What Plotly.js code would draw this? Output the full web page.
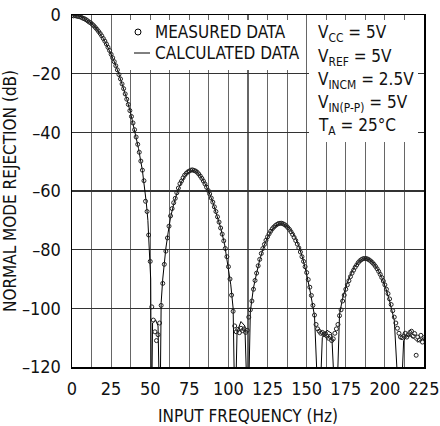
<!DOCTYPE html>
<html>
<head>
<meta charset="utf-8">
<script src="https://cdn.plot.ly/plotly-3.0.1.min.js"></script>
<style>html,body{margin:0;padding:0;background:#fff;}#chart{width:440px;height:426px;}</style>
</head>
<body>
<div id="chart"></div>
<script>
const measuredFreq = [0,1,2,3,4,5,6,7,8,9,10,11,12,13,14,15,16,17,18,19,20,21,22,23,24,25,26,27,28,29,30,31,32,33,34,35,36,37,38,39,40,41,42,43,44,45,46,47,48,49,50,51,52,53,54,55,56,57,58,59,60,61,62,63,64,65,66,67,68,69,70,71,72,73,74,75,76,77,78,79,80,81,82,83,84,85,86,87,88,89,90,91,92,93,94,95,96,97,98,99,100,101,102,103,104,105,106,107,108,109,110,111,112,113,114,115,116,117,118,119,120,121,122,123,124,125,126,127,128,129,130,131,132,133,134,135,136,137,138,139,140,141,142,143,144,145,146,147,148,149,150,151,152,153,154,155,156,157,158,159,160,161,162,163,164,165,166,167,168,169,170,171,172,173,174,175,176,177,178,179,180,181,182,183,184,185,186,187,188,189,190,191,192,193,194,195,196,197,198,199,200,201,202,203,204,205,206,207,208,209,210,211,212,213,214,215,216,217,218,219,220,221,222,223,224,225];
const measuredDb = [-0.2,-0.3,-0.2,-0.4,-0.5,-0.6,-0.8,-1.1,-1.3,-1.6,-2.0,-2.4,-2.7,-3.2,-3.7,-4.3,-4.9,-5.6,-6.3,-7.1,-8.0,-8.9,-9.9,-11.0,-12.1,-13.4,-14.6,-15.9,-17.3,-18.7,-20.3,-21.8,-23.5,-25.1,-26.9,-28.7,-30.5,-32.6,-34.6,-36.8,-39.1,-41.6,-44.1,-46.8,-49.8,-52.9,-56.5,-63.5,-67,-75,-84,-99.5,-104,-108,-111,-109,-105,-99,-91.5,-85,-80.5,-76,-72,-68.5,-66,-64,-62.5,-60.6,-59,-57.5,-56.6,-55.5,-54.6,-54,-53.5,-53.2,-52.9,-52.8,-53,-53.2,-53.6,-54.2,-54.9,-55.7,-56.6,-57.6,-58.7,-59.8,-61,-62.4,-63.8,-65.4,-67,-68.8,-70.6,-72.6,-74.7,-77,-79.6,-82.4,-85.8,-90,-95.5,-101,-106,-108,-107.2,-108.3,-106.8,-107.6,-107,-108.2,-107.5,-103,-100.5,-97.5,-93.5,-90.5,-88,-85.5,-83.3,-81.3,-79.6,-78.2,-76.8,-75.6,-74.6,-73.7,-72.9,-72.3,-71.8,-71.4,-71.1,-71,-71,-71.2,-71.5,-71.9,-72.5,-73.1,-73.9,-74.8,-75.8,-76.9,-78.1,-79.4,-80.8,-82.4,-84,-85.8,-87.8,-90.2,-92.8,-95.6,-99,-102.3,-105.5,-107,-107.8,-108.5,-108.2,-109,-108.6,-109.5,-110.2,-109.6,-111,-110.4,-108.5,-107,-105.5,-102.5,-100.5,-97.5,-95.5,-93.5,-92,-90.6,-89.2,-88,-87,-86,-85.2,-84.4,-83.8,-83.4,-83.1,-83,-83,-83.2,-83.5,-83.9,-84.4,-85,-85.7,-86.5,-87.4,-88.4,-89.5,-90.7,-92,-93.5,-95,-96.8,-98.7,-100.8,-103,-105,-106.8,-108.5,-109.8,-110,-109.4,-108.5,-109.8,-109,-108.2,-107.8,-109.5,-108.6,-116,-109.8,-110.8,-109.2,-111.5,-110];

// Calculated response (solid line)
const calcFreq = [0,2.5,5,7.5,10,12.5,15,17.5,20,22.5,25,27.5,30,32.5,35,37.5,40,42.5,45,46.5,47.5,48.5,49.5,50.3,50.8,51.5,53.5,55,56.2,57,58,59,60,61.5,63,65,67.5,70,72.5,75,77.5,80,82.5,85,87.5,90,92.5,95,97.5,100,101.5,103,104.2,105.5,108,110.5,112.5,114,116,118,120,122.5,125,127.5,130,132.5,135,137.5,140,142.5,145,147.5,150,152.5,155,157.9,160,163,166,168.8,171,173,175.5,178,180.5,183,185.5,188,190.5,193,195.5,198,200.5,203,206,209.7,212,215,218,221,225];
const calcDb = [0,-0.1,-0.4,-1.0,-1.8,-2.8,-4.2,-5.9,-8.0,-10.5,-13.3,-16.5,-20.2,-24.3,-28.6,-33.5,-39,-45.5,-53,-59,-64,-70,-79,-90,-140,-105,-104,-106,-140,-98,-90,-84,-79.5,-74,-69,-64.5,-60,-56.8,-54.7,-53.4,-53,-53.6,-55.2,-57.5,-60.3,-63.8,-67.8,-72.5,-78,-86,-92,-100,-140,-108,-104.5,-106,-140,-101,-93,-88,-83.5,-79,-75.8,-73.5,-72,-71.2,-71.2,-72,-73.4,-75.6,-78.8,-83,-88.4,-95,-102.5,-140,-110,-107.5,-108.5,-140,-102,-96.5,-92,-88.6,-86,-84.2,-83.2,-83,-83.5,-84.8,-86.8,-89.5,-93,-97.5,-104,-140,-111,-109,-110,-111.5,-110];

const xTickVals = [0,25,50,75,100,125,150,175,200,225];
const xTickText = ['0','25','50','75','100','125','150','175','200','225'];
const yTickVals = [0,-20,-40,-60,-80,-100,-120];
const yTickText = ['0','–20','–40','–60','–80','–100','–120'];

const legendNames = ['MEASURED DATA','CALCULATED DATA'];
const conditionLines = ['V<sub>CC</sub> = 5V','V<sub>REF</sub> = 5V','V<sub>INCM</sub> = 2.5V','V<sub>IN(P-P)</sub> = 5V','T<sub>A</sub> = 25°C'];

const FONT = 'Liberation Sans Narrow, DejaVu Sans Condensed, Arial Narrow, sans-serif';

const traces = [
  {x: calcFreq, y: calcDb, mode: 'lines', name: legendNames[1],
   line: {color: '#000', width: 1}, showlegend: false},
  {x: measuredFreq, y: measuredDb, mode: 'markers', name: legendNames[0],
   marker: {symbol: 'circle-open', size: 4, color: '#222', line: {width: 1}}, showlegend: false}
];

// pixel helpers for decoration placement (plot area 72..424 x, 15..367 y)
const px2f = p => (p - 72) / 352 * 225;
const py2db = p => -(p - 15) / 352 * 120;

const condY = [33, 57, 80, 103, 126];
const annotations = [
  {x: px2f(153), y: py2db(32), xref: 'x', yref: 'y', text: legendNames[0], showarrow: false,
   xanchor: 'left', yanchor: 'middle', font: {family: FONT, size: 17, color: '#111'}},
  {x: px2f(153), y: py2db(53), xref: 'x', yref: 'y', text: legendNames[1], showarrow: false,
   xanchor: 'left', yanchor: 'middle', font: {family: FONT, size: 17, color: '#111'}}
].concat(conditionLines.map((t, i) => ({
  x: px2f(316), y: py2db(condY[i]), xref: 'x', yref: 'y', text: t, showarrow: false,
  xanchor: 'left', yanchor: 'middle', align: 'left', font: {family: FONT, size: 17, color: '#111'}
})));

const shapes = [
  {type: 'rect', xref: 'x', yref: 'y', x0: px2f(113), x1: px2f(301), y0: py2db(20), y1: py2db(70),
   fillcolor: '#fff', line: {width: 0}, layer: 'between'},
  {type: 'rect', xref: 'x', yref: 'y', x0: px2f(309), x1: px2f(418), y0: py2db(20), y1: py2db(142),
   fillcolor: '#fff', line: {width: 0}, layer: 'between'},
  {type: 'circle', xref: 'x', yref: 'y', xsizemode: 'pixel', ysizemode: 'pixel',
   xanchor: px2f(138), yanchor: py2db(32), x0: -3, x1: 3, y0: -3, y1: 3,
   line: {color: '#000', width: 1}, fillcolor: 'rgba(0,0,0,0)'},
  {type: 'line', xref: 'x', yref: 'y', x0: px2f(134), x1: px2f(150), y0: py2db(53), y1: py2db(53),
   line: {color: '#000', width: 1}}
];

const layout = {
  width: 440, height: 426,
  margin: {l: 72, r: 16, t: 15, b: 59},
  paper_bgcolor: '#fff', plot_bgcolor: '#fff',
  font: {family: FONT, size: 17, color: '#111'},
  showlegend: false,
  xaxis: {
    range: [0, 225], tickmode: 'array', tickvals: xTickVals, ticktext: xTickText,
    tickfont: {family: FONT, size: 18},
    showgrid: true, gridcolor: '#666', gridwidth: 1.2,
    minor: {dtick: 12.5, tick0: 0, showgrid: true, gridcolor: '#666', gridwidth: 1.2, ticks: ''},
    showline: true, linecolor: '#000', linewidth: 1.5, mirror: true,
    ticks: '', zeroline: false, ticklabelstandoff: 5,
    title: {text: 'INPUT FREQUENCY (Hz)', font: {family: FONT, size: 17}, standoff: 12}
  },
  yaxis: {
    range: [-120, 0], tickmode: 'array', tickvals: yTickVals, ticktext: yTickText,
    tickfont: {family: FONT, size: 18},
    showgrid: true, gridcolor: '#333', gridwidth: 1.2,
    showline: true, linecolor: '#000', linewidth: 1.5, mirror: true,
    ticks: '', zeroline: false, ticklabelstandoff: 6,
    title: {text: 'NORMAL MODE REJECTION (dB)', font: {family: FONT, size: 17}, standoff: 1}
  },
  shapes: shapes,
  annotations: annotations
};

Plotly.newPlot('chart', traces, layout, {staticPlot: true, displayModeBar: false});
</script>
</body>
</html>
